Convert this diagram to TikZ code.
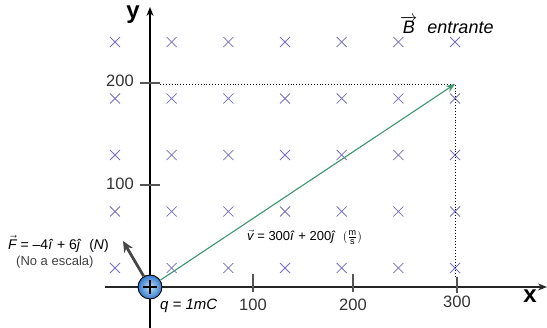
\documentclass[tikz,border=0pt]{standalone}
\usepackage{fontspec}
\setmainfont{Liberation Sans}
\usetikzlibrary{arrows.meta}
\definecolor{crosscol}{RGB}{118,110,190}
\definecolor{vgreen}{RGB}{60,150,110}
\definecolor{fgray}{RGB}{70,70,70}
\definecolor{tickgray}{RGB}{85,85,85}
\definecolor{ballin}{RGB}{190,225,250}
\definecolor{ballout}{RGB}{50,120,205}
\tikzset{
  axis/.style={line width=1.6pt,-{Stealth[length=9pt,width=7pt]}},
  tickline/.style={line width=1.3pt,tickgray},
  ticklabel/.style={font=\fontsize{16.5}{16.5}\selectfont,text=black!80,inner sep=0pt},
  axlabel/.style={font=\fontsize{24}{24}\selectfont\bfseries,inner sep=0pt},
  guide/.style={line width=0.9pt,dotted},
  crossmark/.style={crosscol,line width=0.8pt},
  formula/.style={font=\fontsize{13}{13}\selectfont,inner sep=0pt},
}
\newcommand\vecit[1]{$\vec{\mbox{\itshape #1}}$}
\begin{document}
\begin{tikzpicture}[x=1pt,y=-1pt]
\useasboundingbox (0,0) rectangle (547,328);
% crosses (B field into page)
\foreach \i in {0,...,6}{
  \foreach \j in {0,...,4}{
    \pgfmathsetmacro\cx{115+56.67*\i}
    \pgfmathsetmacro\cy{42+56.5*\j}
    \draw[crossmark] (\cx-5,\cy-5) -- (\cx+5,\cy+5) (\cx-5,\cy+5) -- (\cx+5,\cy-5);
  }
}
% axes
\coordinate (xstart) at (105,287);
\coordinate (xend) at (547,287);
\coordinate (ystart) at (150,328);
\coordinate (yend) at (150,7);
\draw[axis,black!85] (xstart) -- (xend);
\draw[axis,black] (ystart) -- (yend);
% ticks
\coordinate (tx1a) at (253,274); \coordinate (tx1b) at (253,292);
\coordinate (tx2a) at (353,274); \coordinate (tx2b) at (353,292);
\coordinate (tx3a) at (457,277); \coordinate (tx3b) at (457,293);
\coordinate (ty1a) at (140,185); \coordinate (ty1b) at (160,185);
\coordinate (ty2a) at (140,83); \coordinate (ty2b) at (160,83);
\draw[tickline] (tx1a) -- (tx1b) (tx2a) -- (tx2b) (tx3a) -- (tx3b)
  (ty1a) -- (ty1b) (ty2a) -- (ty2b);
\node[ticklabel] (l100x) at (253,305) {100};
\node[ticklabel] (l200x) at (353,305) {200};
\node[ticklabel] (l300x) at (457,302) {300};
\node[ticklabel] (l100y) at (120,184) {100};
\node[ticklabel] (l200y) at (120,81) {200};
\node[axlabel] (xlab) at (530,296) {x};
\node[axlabel] (ylab) at (133,15) {y};
% guides
\coordinate (vtip) at (455,84);
\coordinate (gleft) at (160,84);
\coordinate (gbottom) at (455,277);
\draw[guide] (gleft) -- (vtip) -- (gbottom);
% charge
\node[circle,draw=black,line width=0.9pt,inner color=ballin,outer color=ballout,minimum size=24pt,inner sep=0pt] (q) at (150,287) {};
\draw[line width=2.6pt,black] (143,287) -- (157,287) (150,280) -- (150,294);
% velocity vector
\draw[vgreen,line width=1.1pt,-{Stealth[length=9pt,width=7pt]}] (q) -- (vtip);
% force vector
\coordinate (ftip) at (123,241);
\draw[fgray,line width=2.8pt,-{Stealth[length=11pt,width=10pt]}] (q) -- (ftip);
% labels
\node[formula,font=\fontsize{14}{14}\selectfont,anchor=west] (flab) at (8,244) {\vecit{F} = –4\textit{\^{\i}} + 6\textit{\^{\j}}\ \ (\textit{N})};
\node[formula,anchor=west,text=black!75] (fnote) at (16,262) {(No a escala)};
\node[formula,anchor=west] (vlab) at (247,237) {\vecit{v} = 300\textit{\^{\i}} + 200\textit{\^{\j}}\ \ $\bigl(\frac{\mathrm{m}}{\mathrm{s}}\bigr)$};
\node[font=\fontsize{15}{15}\selectfont\itshape,anchor=west,inner sep=0pt] (qlab) at (160,306) {q = 1mC};
\node[font=\fontsize{18}{18}\selectfont,anchor=west,inner sep=0pt] (blab) at (400,25) {$\overrightarrow{\mbox{\itshape B}}$\ \ \textit{entrante}};
\end{tikzpicture}
\end{document}
